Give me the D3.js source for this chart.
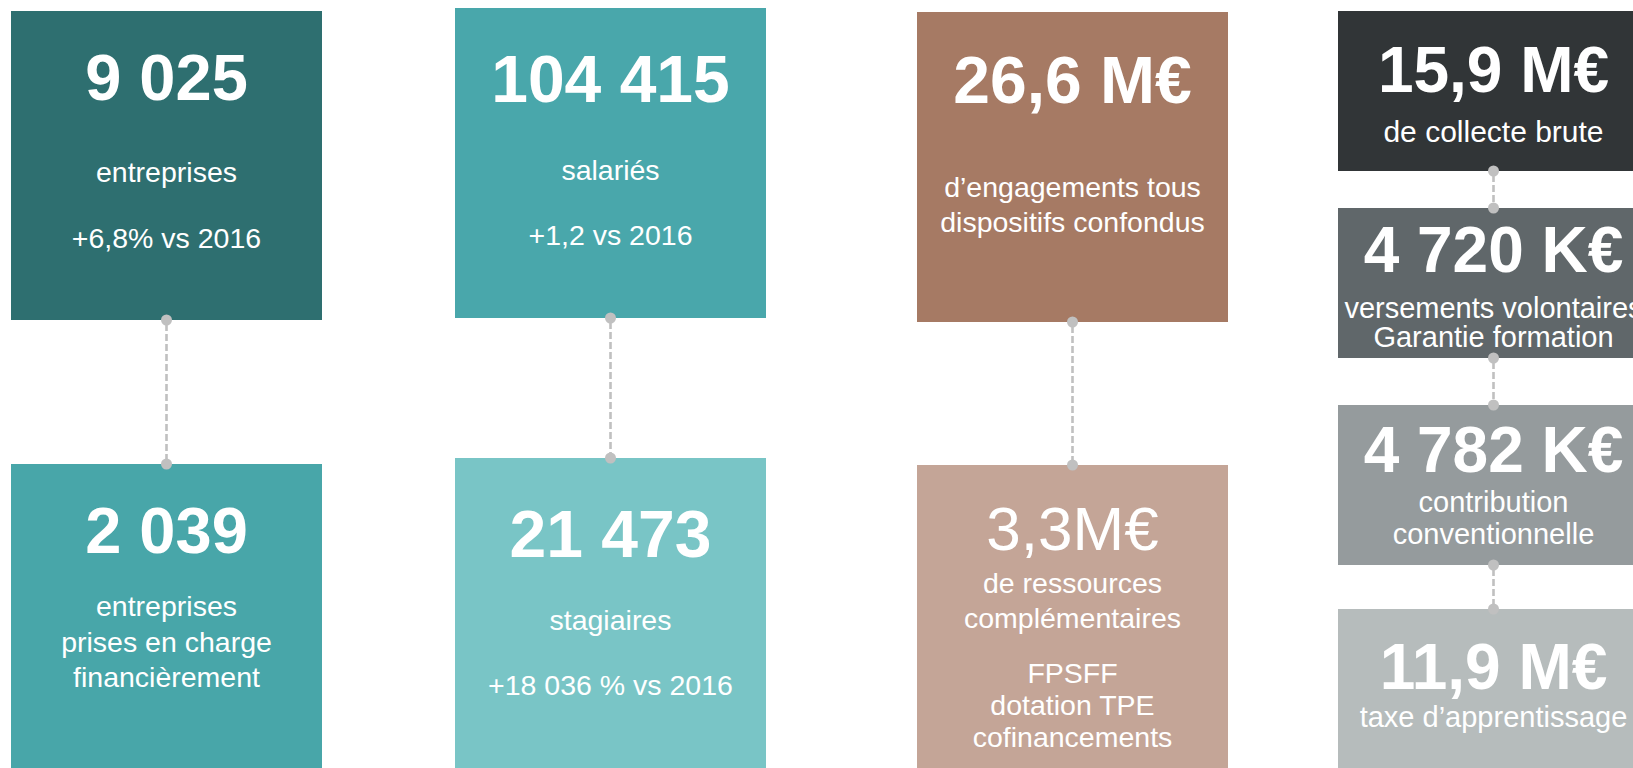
<!DOCTYPE html>
<html>
<head>
  <script src="https://d3js.org/d3.v7.min.js"></script>
  <meta charset='utf-8'>
  <title>Chiffres clés</title>
  <style>
    body { margin: 0; background: #fff; }
    svg { display: block; font-family: Arial, "Liberation Sans", sans-serif; }
  </style>
</head>
<body>
  <div id="container"></div>

  <script>
  const width = 1633, height = 768;

  // chiffres clés, une case par valeur
  const values = ["9 025", "2 039", "104 415", "21 473", "26,6 M€", "3,3M€",
                  "15,9 M€", "4 720 K€", "4 782 K€", "11,9 M€"];
  const captions = [
    ["entreprises", "+6,8% vs 2016"],
    ["entreprises", "prises en charge", "financièrement"],
    ["salariés", "+1,2 vs 2016"],
    ["stagiaires", "+18 036 % vs 2016"],
    ["d’engagements tous", "dispositifs confondus"],
    ["de ressources", "complémentaires", "FPSFF", "dotation TPE", "cofinancements"],
    ["de collecte brute"],
    ["versements volontaires", "Garantie formation"],
    ["contribution", "conventionnelle"],
    ["taxe d’apprentissage"]
  ];
  const columns = [0, 0, 1, 1, 2, 2, 3, 3, 3, 3];
  // liens entre cases (indices)
  const links = [[0, 1], [2, 3], [4, 5], [6, 7], [7, 8], [8, 9]];

  // mise en page
  const colors = ["#2e6f70", "#48a6a9", "#49a7ab", "#79c5c6", "#a67a64", "#c4a597",
                  "#313537", "#60676a", "#959b9d", "#b6bcbc"];
  const colX = d3.scaleOrdinal().domain([0, 1, 2, 3]).range([11, 455, 917, 1338]);
  const boxW = 311;
  const tops = [11, 464, 8, 458, 12, 465, 11, 208, 405, 609];
  const bottoms = [320, 790, 318, 790, 322, 790, 171, 358, 565, 790];
  const bigY = [89, 89, 94, 99, 91, 85, 81, 64, 67, 80];
  const bigSize = [65, 65, 66, 66, 66, 62, 64, 64, 64, 64];
  const bigWeight = ["bold", "bold", "bold", "bold", "bold", "normal", "bold", "bold", "bold", "bold"];
  const lineY = [
    [171, 237],
    [152, 188, 223],
    [172, 237],
    [172, 237],
    [185, 220],
    [128, 163, 218, 250, 282],
    [131],
    [110, 139],
    [107, 139],
    [118]
  ];
  const capSize = [28.5, 28.5, 28.5, 28.5, 28.5, 28.5, 30, 29, 29, 29];

  const svg = d3.select("#container").append("svg")
    .attr("width", width)
    .attr("height", height)

  const boxes = values.map((v, i) => ({
    i: i,
    value: v,
    lines: captions[i],
    x: colX(columns[i]),
    y: tops[i],
    h: bottoms[i] - tops[i],
    cx: colX(columns[i]) + boxW / 2
  }));

  svg.append("defs").selectAll("clipPath")
    .data(boxes)
    .enter()
    .append("clipPath")
    .attr("id", d => "clip" + d.i)
    .append("rect")
    .attr("x", d => d.x)
    .attr("y", d => d.y)
    .attr("width", boxW)
    .attr("height", d => d.h)

  const g = svg.selectAll("g.box")
    .data(boxes)
    .enter()
    .append("g")
    .attr("class", "box")
    .attr("clip-path", d => `url(#clip${d.i})`)

  g.append("rect")
    .attr("x", d => d.x)
    .attr("y", d => d.y)
    .attr("width", boxW)
    .attr("height", d => d.h)
    .attr("fill", d => colors[d.i])

  g.append("text")
    .attr("x", d => d.cx)
    .attr("y", d => d.y + bigY[d.i])
    .attr("text-anchor", "middle")
    .attr("fill", "#fff")
    .attr("font-size", d => bigSize[d.i])
    .attr("font-weight", d => bigWeight[d.i])
    .text(d => d.value)

  g.each(function(d) {
    d3.select(this).selectAll("text.cap")
      .data(d.lines)
      .enter()
      .append("text")
      .attr("class", "cap")
      .attr("x", d.cx)
      .attr("y", (t, k) => d.y + lineY[d.i][k])
      .attr("text-anchor", "middle")
      .attr("fill", "#fff")
      .attr("font-size", capSize[d.i])
      .text(t => t)
  })

  // connecteurs pointillés
  const lk = svg.selectAll("g.link")
    .data(links)
    .enter()
    .append("g")
    .attr("class", "link")

  lk.append("line")
    .attr("x1", d => boxes[d[0]].cx)
    .attr("x2", d => boxes[d[0]].cx)
    .attr("y1", d => bottoms[d[0]] + 4)
    .attr("y2", d => tops[d[1]] - 4)
    .attr("stroke", "#c0c0c0")
    .attr("stroke-width", 2.6)
    .attr("stroke-dasharray", "7,3")

  lk.append("circle")
    .attr("cx", d => boxes[d[0]].cx)
    .attr("cy", d => bottoms[d[0]])
    .attr("r", 5.5)
    .attr("fill", "#c0c0c0")

  lk.append("circle")
    .attr("cx", d => boxes[d[1]].cx)
    .attr("cy", d => tops[d[1]])
    .attr("r", 5.5)
    .attr("fill", "#c0c0c0")
  </script>
</body>
</html>
